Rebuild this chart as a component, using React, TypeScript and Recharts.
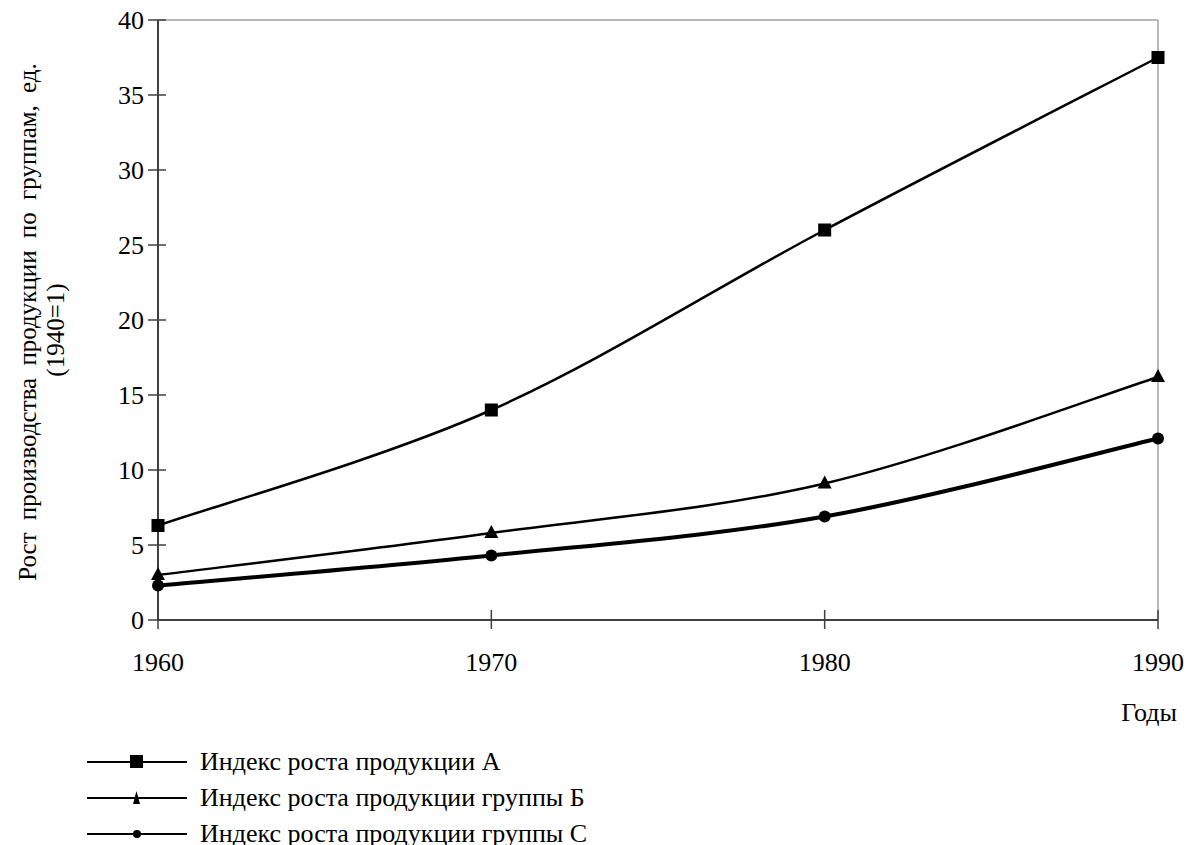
import { LineChart, Line, XAxis, YAxis, ReferenceLine, Legend } from 'recharts';

const years = [1960, 1970, 1980, 1990];
const groupA = [6.3, 14.0, 26.0, 37.5];
const groupB = [3.0, 5.8, 9.1, 16.2];
const groupC = [2.3, 4.3, 6.9, 12.1];
const yTicks = [0, 5, 10, 15, 20, 25, 30, 35, 40];
const seriesNames = [
  'Индекс роста продукции А',
  'Индекс роста продукции группы Б',
  'Индекс роста продукции группы С',
];
const yTitle = ['Рост производства продукции по группам, ед.', '(1940=1)'];
const xTitle = 'Годы';

const data = years.map((year, i) => ({ year, a: groupA[i], b: groupB[i], c: groupC[i] }));

const font = '"Liberation Serif", serif';
const axisColor = '#404040';
const frameColor = '#a0a0a0';

// Excel-like smoothed line (Catmull-Rom through the points)
const smoothCurve = (context: any) => {
  let pts: number[][] = [];
  return {
    areaStart() {},
    areaEnd() {},
    lineStart() {
      pts = [];
    },
    point(x: number, y: number) {
      pts.push([+x, +y]);
    },
    lineEnd() {
      if (!pts.length) return;
      context.moveTo(pts[0][0], pts[0][1]);
      for (let i = 0; i < pts.length - 1; i++) {
        const p0 = pts[i - 1] || pts[i];
        const p1 = pts[i];
        const p2 = pts[i + 1];
        const p3 = pts[i + 2] || p2;
        context.bezierCurveTo(
          p1[0] + (p2[0] - p0[0]) / 6,
          p1[1] + (p2[1] - p0[1]) / 6,
          p2[0] - (p3[0] - p1[0]) / 6,
          p2[1] - (p3[1] - p1[1]) / 6,
          p2[0],
          p2[1]
        );
      }
    },
  };
};

const square = (p: any) => (
  <rect key={`a-${p.index}`} x={p.cx - 6.5} y={p.cy - 6.5} width={13} height={13} fill="#000" />
);
const triangle = (p: any) => (
  <path
    key={`b-${p.index}`}
    d={`M${p.cx},${p.cy - 8} L${p.cx + 7},${p.cy + 5} L${p.cx - 7},${p.cy + 5} Z`}
    fill="#000"
  />
);
const circle = (p: any) => <circle key={`c-${p.index}`} cx={p.cx} cy={p.cy} r={6} fill="#000" />;

const YTick = ({ x, y, payload }: any) => (
  <g>
    <line x1={x - 10} x2={x + 8} y1={y} y2={y} stroke={axisColor} strokeWidth={1.5} />
    <text x={x - 14} y={y} textAnchor="end" dominantBaseline="central" fontFamily={font} fontSize={26} fill="#000">
      {payload.value}
    </text>
  </g>
);

const XTick = ({ x, y, payload }: any) => (
  <g>
    <line x1={x} x2={x} y1={y - 10} y2={y + 9} stroke={axisColor} strokeWidth={1.5} />
    <text x={x} y={y + 42} textAnchor="middle" dominantBaseline="central" fontFamily={font} fontSize={26} fill="#000">
      {payload.value}
    </text>
  </g>
);

const YTitle = ({ viewBox }: any) => {
  const cy = viewBox.y + viewBox.height / 2 + 2;
  return (
    <g>
      {yTitle.map((line, i) => {
        const cx = viewBox.x + 19 + i * 28;
        return (
          <text
            key={line}
            x={cx}
            y={cy + i * 8}
            transform={`rotate(-90 ${cx} ${cy + i * 8})`}
            textAnchor="middle"
            dominantBaseline="central"
            fontFamily={font}
            fontSize={25}
            wordSpacing={6}
            fill="#000"
          >
            {line}
          </text>
        );
      })}
    </g>
  );
};

const XTitle = ({ viewBox }: any) => (
  <text
    x={viewBox.x + viewBox.width + 19}
    y={viewBox.y + 92}
    textAnchor="end"
    dominantBaseline="central"
    fontFamily={font}
    fontSize={26}
    fill="#000"
  >
    {xTitle}
  </text>
);

const legendMarks = [
  <rect x={43} y={3} width={13} height={13} fill="#000" />,
  <path d="M49.5,3 L53,16 L46,16 Z" fill="#000" />,
  <circle cx={50} cy={10} r={4} fill="#000" />,
];

const renderLegend = () => (
  <div style={{ fontFamily: font, fontSize: 26, color: '#000' }}>
    {seriesNames.map((name, i) => (
      <div key={name} style={{ display: 'flex', alignItems: 'center', height: 36, whiteSpace: 'nowrap' }}>
        <svg width={100} height={20} style={{ display: 'block' }}>
          <line x1={0} x2={100} y1={10} y2={10} stroke="#000" strokeWidth={2} />
          {legendMarks[i]}
        </svg>
        <span style={{ marginLeft: 13 }}>{name}</span>
      </div>
    ))}
  </div>
);

export default function App() {
  return (
    <div style={{ position: 'fixed', left: 0, top: 0, width: 1192, height: 845, overflow: 'hidden', background: '#fff' }}>
      <div style={{ position: 'absolute', left: 8, top: 8 }}>
        <LineChart width={1176} height={837} data={data} margin={{ top: 12, right: 26, bottom: 165, left: 0 }}>
          <XAxis
            dataKey="year"
            type="number"
            domain={[1960, 1990]}
            ticks={years}
            tickSize={0}
            tickMargin={0}
            tickLine={false}
            tick={<XTick />}
            axisLine={{ stroke: axisColor, strokeWidth: 2 }}
            height={60}
            label={<XTitle />}
          />
          <YAxis
            type="number"
            domain={[0, 40]}
            ticks={yTicks}
            tickSize={0}
            tickMargin={0}
            tickLine={false}
            tick={<YTick />}
            axisLine={{ stroke: axisColor, strokeWidth: 2 }}
            width={150}
            label={<YTitle />}
          />
          <ReferenceLine y={40} stroke={frameColor} strokeWidth={1.5} />
          <ReferenceLine x={1990} stroke={frameColor} strokeWidth={1.5} />
          <Line
            dataKey="a"
            name={seriesNames[0]}
            type={smoothCurve as any}
            stroke="#000"
            strokeWidth={2.5}
            dot={square}
            activeDot={false}
            isAnimationActive={false}
          />
          <Line
            dataKey="b"
            name={seriesNames[1]}
            type={smoothCurve as any}
            stroke="#000"
            strokeWidth={2.5}
            dot={triangle}
            activeDot={false}
            isAnimationActive={false}
          />
          <Line
            dataKey="c"
            name={seriesNames[2]}
            type={smoothCurve as any}
            stroke="#000"
            strokeWidth={4}
            dot={circle}
            activeDot={false}
            isAnimationActive={false}
          />
          <Legend
            layout="horizontal"
            verticalAlign="middle"
            align="center"
            wrapperStyle={{ position: 'absolute', left: 79, top: 736, width: 'auto', height: 'auto' }}
            content={renderLegend}
          />
        </LineChart>
      </div>
    </div>
  );
}
